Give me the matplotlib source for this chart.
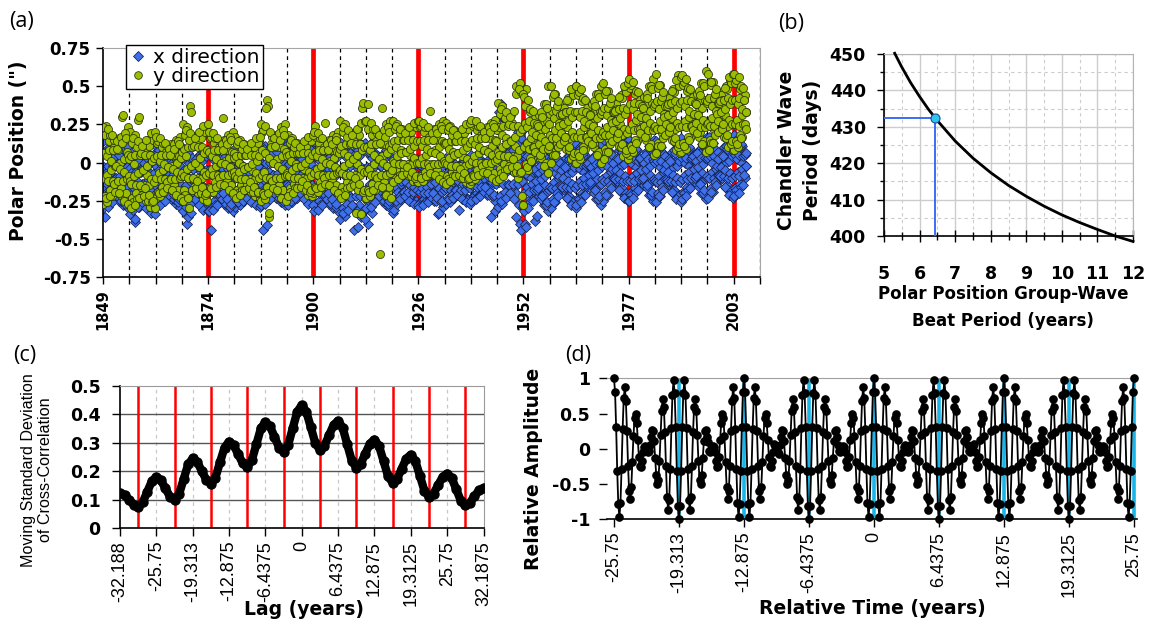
import os
import numpy as np
import matplotlib
matplotlib.use("Agg")
import matplotlib.pyplot as plt
from matplotlib import font_manager
from matplotlib.font_manager import FontProperties
from matplotlib.ticker import MultipleLocator

plt.rcParams["font.family"] = "DejaVu Sans"


def first_font(*names):
    # use the first family that is really installed, so nothing falls back silently
    for name in names:
        try:
            font_manager.findfont(FontProperties(family=name), fallback_to_default=False)
            return name
        except ValueError:
            continue
    return "DejaVu Sans"


def narrow_font(size_narrow, size_plain):
    # a condensed face for the lag/time labels if one is on the system
    files = {os.path.basename(f): f for f in font_manager.findSystemFonts()}
    if "LiberationSansNarrow-Regular.ttf" in files:
        return FontProperties(fname=files["LiberationSansNarrow-Regular.ttf"], size=size_narrow)
    return FontProperties(family=first_font("Liberation Sans", "DejaVu Sans"), size=size_plain)


LETTER = first_font("Open Sans", "Noto Sans")
TICK_NARROW = narrow_font(14, 13)
LABEL_NARROW = narrow_font(14, 11.6)

BEAT = 6.4375  # group-wave beat period, years

# ---------------- (a) polar position, one line pair per beat ----------------
POLE_START = 1849.0
POLE_STEP = BEAT / 30
YEAR_LABELS = ["1849", "1874", "1900", "1926", "1952", "1977", "2003"]
POLE_TICKS = ["0.75", "0.5", "0.25", "0", "-0.25", "-0.5", "-0.75"]

# readings on the beat grid
pole_x = [
    0.14, -0.03, -0.36, -0.27, -0.06, 0.09, -0.02, -0.23, -0.26, -0.08, 0.06, -0.02, -0.20, -0.24, -0.10,
    0.02, -0.02, -0.18, -0.25, -0.11, 0.05, 0.02, -0.18, -0.28, -0.13, 0.07, 0.05, -0.17, -0.30, -0.16,
    -0.20, -0.34, -0.21, 0.01, 0.03, -0.17, -0.39, -0.37, -0.02, 0.01, -0.15, -0.29, -0.22, -0.06, -0.02,
    -0.14, -0.28, -0.24, -0.06, 0.02, -0.12, -0.30, -0.27, -0.06, 0.05, -0.10, -0.31, -0.30, -0.07, 0.06,
    0.11, -0.02, -0.25, -0.26, -0.05, 0.10, -0.01, -0.22, -0.25, -0.07, 0.07, -0.01, -0.19, -0.23, -0.09,
    0.03, -0.01, -0.17, -0.24, -0.10, 0.06, 0.03, -0.17, -0.27, -0.12, 0.08, 0.06, -0.16, -0.29, -0.15,
    -0.18, -0.32, -0.19, 0.03, 0.05, -0.15, -0.40, -0.36, 0.00, 0.03, -0.13, -0.33, -0.20, -0.04, 0.00,
    -0.12, -0.26, -0.22, -0.04, 0.04, -0.10, -0.28, -0.25, -0.04, 0.07, -0.08, -0.29, -0.28, -0.05, 0.08,
    0.08, -0.05, -0.28, -0.44, -0.08, 0.07, -0.04, -0.25, -0.28, -0.10, 0.04, -0.04, -0.22, -0.26, -0.12,
    0.00, -0.04, -0.20, -0.27, -0.13, 0.03, 0.00, -0.20, -0.30, -0.15, 0.05, 0.03, -0.19, -0.32, -0.18,
    -0.18, -0.29, -0.19, -0.03, -0.02, -0.17, -0.28, -0.20, -0.05, -0.03, -0.15, -0.25, -0.20, -0.08, -0.05,
    -0.14, -0.24, -0.21, -0.08, -0.02, -0.12, -0.26, -0.24, -0.08, 0.00, -0.11, -0.26, -0.26, -0.09, 0.01,
    0.12, -0.01, -0.24, -0.44, -0.04, 0.11, 0.00, -0.41, -0.24, -0.06, 0.08, 0.00, -0.18, -0.22, -0.08,
    0.04, 0.00, -0.16, -0.23, -0.09, 0.07, 0.04, -0.16, -0.26, -0.11, 0.09, 0.07, -0.15, -0.28, -0.14,
    -0.14, -0.28, -0.15, 0.07, 0.09, -0.11, -0.26, -0.16, 0.04, 0.07, -0.09, -0.23, -0.16, 0.00, 0.04,
    -0.08, -0.22, -0.18, 0.00, 0.08, -0.06, -0.24, -0.21, 0.00, 0.11, -0.04, -0.25, -0.24, -0.01, 0.12,
    0.08, -0.05, -0.28, -0.29, -0.08, 0.07, -0.04, -0.25, -0.28, -0.10, 0.04, -0.04, -0.22, -0.26, -0.12,
    0.00, -0.04, -0.20, -0.27, -0.13, 0.03, 0.00, -0.20, -0.30, -0.15, 0.05, 0.03, -0.19, -0.32, -0.18,
    -0.19, -0.37, -0.21, 0.06, 0.09, -0.16, -0.35, -0.22, 0.03, 0.07, -0.14, -0.30, -0.22, -0.01, 0.04,
    -0.12, -0.29, -0.44, -0.02, 0.08, -0.09, -0.42, -0.28, -0.02, 0.12, -0.06, -0.33, -0.32, -0.04, 0.13,
    0.10, -0.03, -0.26, -0.40, -0.06, 0.09, -0.02, -0.33, -0.26, 0.15, 0.06, -0.02, -0.20, -0.24, -0.10,
    0.02, -0.02, -0.18, -0.25, -0.11, 0.05, 0.02, -0.18, -0.28, -0.13, 0.07, 0.05, -0.17, -0.30, -0.16,
    -0.17, -0.33, -0.31, -0.02, -0.01, -0.16, -0.27, -0.19, -0.04, -0.02, -0.14, -0.24, -0.19, -0.07, -0.04,
    -0.13, -0.23, -0.20, -0.07, -0.01, -0.11, -0.25, -0.23, -0.07, 0.01, -0.10, -0.25, -0.25, -0.08, 0.02,
    0.01, -0.09, -0.26, -0.26, -0.11, 0.00, -0.08, -0.24, -0.26, -0.12, -0.02, -0.08, -0.21, -0.24, -0.14,
    -0.05, -0.08, -0.20, -0.25, -0.15, -0.03, -0.05, -0.34, -0.33, -0.17, -0.02, -0.03, -0.19, -0.29, -0.18,
    -0.16, -0.27, -0.17, -0.01, 0.00, -0.15, -0.26, -0.18, -0.03, -0.01, -0.13, -0.23, -0.18, -0.06, -0.03,
    -0.12, -0.31, -0.19, -0.06, 0.00, -0.10, -0.24, -0.22, -0.06, 0.02, -0.09, -0.24, -0.24, -0.07, 0.03,
    0.05, -0.05, -0.22, -0.22, -0.07, 0.04, -0.04, -0.20, -0.22, -0.08, 0.02, -0.04, -0.17, -0.20, -0.10,
    -0.01, -0.04, -0.16, -0.21, -0.11, 0.01, -0.01, -0.16, -0.36, -0.13, 0.02, 0.01, -0.32, -0.25, -0.14,
    -0.11, -0.29, -0.13, 0.30, 0.38, -0.08, -0.27, -0.14, 0.11, 0.28, -0.06, -0.22, -0.14, 0.07, 0.12,
    -0.04, -0.21, -0.16, 0.06, 0.16, -0.01, -0.36, -0.20, 0.06, 0.20, 0.02, -0.40, -0.44, 0.04, 0.21,
    0.10, -0.05, -0.40, -0.42, -0.08, 0.06, -0.05, -0.24, -0.26, -0.10, 0.01, -0.06, -0.19, -0.38, -0.12,
    -0.35, -0.07, -0.17, -0.22, -0.13, 0.00, -0.02, -0.19, -0.28, -0.15, 0.04, 0.02, -0.19, -0.32, -0.18,
    -0.16, -0.30, -0.17, 0.04, 0.06, -0.13, -0.26, -0.17, 0.00, 0.02, -0.11, -0.20, -0.15, -0.05, -0.04,
    -0.10, -0.18, -0.17, -0.04, 0.03, -0.08, -0.24, -0.22, -0.03, 0.08, -0.06, -0.26, -0.25, -0.03, 0.10,
    0.12, -0.01, -0.23, -0.24, -0.04, 0.10, -0.01, -0.20, -0.22, -0.06, 0.05, -0.02, -0.15, -0.16, -0.08,
    -0.02, -0.03, -0.13, -0.18, -0.09, 0.04, 0.02, -0.15, -0.24, -0.11, 0.08, 0.06, -0.15, -0.28, -0.14,
    -0.11, -0.25, -0.12, 0.09, 0.11, -0.08, -0.21, -0.12, 0.05, 0.07, -0.06, -0.15, -0.10, 0.00, 0.01,
    -0.05, -0.13, -0.12, 0.01, 0.08, -0.03, -0.19, -0.17, 0.02, 0.13, -0.01, -0.21, -0.20, 0.02, 0.15,
    0.15, 0.02, -0.20, -0.21, -0.01, 0.13, 0.02, -0.17, -0.19, -0.03, 0.08, 0.01, -0.12, -0.13, -0.05,
    0.01, 0.00, -0.10, -0.15, -0.06, 0.07, 0.05, -0.12, -0.21, -0.08, 0.11, 0.09, -0.12, -0.25, -0.11,
    -0.12, -0.26, -0.13, 0.08, 0.10, -0.09, -0.22, -0.13, 0.04, 0.06, -0.07, -0.16, -0.11, -0.01, 0.00,
    -0.06, -0.14, -0.13, 0.00, 0.07, -0.04, -0.20, -0.18, 0.01, 0.12, -0.02, -0.22, -0.21, 0.01, 0.14,
    0.16, 0.03, -0.19, -0.20, 0.00, 0.14, 0.03, -0.16, -0.18, -0.02, 0.09, 0.02, -0.11, -0.12, -0.04,
    0.02, 0.01, -0.09, -0.14, -0.05, 0.08, 0.06, -0.11, -0.20, -0.07, 0.12, 0.10, -0.11, -0.24, -0.10,
    -0.09, -0.23, -0.10, 0.11, 0.13, -0.06, -0.19, -0.10, 0.07, 0.09, -0.04, -0.13, -0.08, 0.02, 0.03,
    -0.03, -0.11, -0.10, 0.03, 0.10, -0.01, -0.17, -0.15, 0.04, 0.15, 0.01, -0.19, -0.18, 0.04, 0.17,
    0.18, 0.05, -0.17, -0.18, 0.02, 0.16, 0.05, -0.14, -0.16, 0.00, 0.11, 0.04, -0.09, -0.10, -0.02,
]

# readings half a step later
pole_x_mid = [
    -0.30, -0.17, 0.06, 0.07, -0.14, -0.29, -0.18, 0.03, 0.06, -0.12, -0.26, -0.18, 0.00, 0.04, -0.10,
    -0.22, -0.18, -0.02, 0.05, -0.09, -0.25, -0.22, -0.02, 0.08, -0.07, -0.27, -0.25, -0.03, 0.10, -0.04,
    -0.08, 0.06, -0.07, -0.29, -0.31, -0.11, 0.04, -0.06, -0.26, -0.29, -0.13, 0.01, -0.06, -0.22, -0.26,
    -0.14, 0.00, -0.04, -0.22, -0.30, -0.16, 0.02, -0.01, -0.22, -0.33, -0.18, 0.03, 0.02, -0.21, -0.34,
    -0.29, -0.16, 0.07, 0.08, -0.13, -0.28, -0.17, 0.04, 0.07, -0.11, -0.25, -0.17, 0.01, 0.05, -0.09,
    -0.21, -0.17, -0.01, 0.06, -0.08, -0.24, -0.21, -0.01, 0.09, -0.06, -0.26, -0.24, -0.02, 0.11, -0.03,
    -0.06, 0.08, -0.05, -0.27, -0.29, -0.09, 0.06, -0.04, -0.24, -0.27, -0.11, 0.03, -0.04, -0.20, -0.24,
    -0.12, 0.02, -0.02, -0.20, -0.28, -0.14, 0.04, 0.01, -0.20, -0.31, -0.16, 0.05, 0.04, -0.19, -0.32,
    -0.32, -0.19, 0.04, 0.05, -0.16, -0.31, -0.20, 0.01, 0.04, -0.14, -0.28, -0.20, -0.02, 0.02, -0.12,
    -0.24, -0.20, -0.04, 0.03, -0.11, -0.27, -0.24, -0.04, 0.06, -0.09, -0.29, -0.27, -0.05, 0.08, -0.06,
    -0.10, 0.01, -0.09, -0.25, -0.26, -0.11, 0.00, -0.08, -0.23, -0.25, -0.13, -0.03, -0.08, -0.20, -0.23,
    -0.14, -0.04, -0.07, -0.20, -0.26, -0.16, -0.02, -0.04, -0.20, -0.28, -0.17, -0.02, -0.02, -0.19, -0.29,
    -0.28, -0.15, 0.08, 0.09, -0.12, -0.27, -0.16, 0.05, 0.08, -0.10, -0.24, -0.16, 0.02, 0.06, -0.08,
    -0.20, -0.16, 0.00, 0.07, -0.07, -0.23, -0.20, 0.00, 0.10, -0.05, -0.25, -0.23, -0.01, 0.12, -0.02,
    -0.02, 0.12, -0.01, -0.23, -0.25, -0.05, 0.10, 0.00, -0.20, -0.23, -0.07, 0.07, 0.00, -0.16, -0.20,
    -0.08, 0.06, 0.02, -0.16, -0.24, -0.10, 0.08, 0.05, -0.16, -0.27, -0.12, 0.09, 0.08, -0.15, -0.28,
    -0.32, -0.19, 0.04, 0.05, -0.16, -0.31, -0.20, 0.01, 0.04, -0.14, -0.28, -0.20, -0.02, 0.02, -0.12,
    -0.24, -0.20, -0.04, 0.03, -0.11, -0.27, -0.24, -0.04, 0.06, -0.09, -0.29, -0.27, -0.05, 0.08, -0.06,
    -0.05, 0.13, -0.03, -0.30, -0.33, -0.08, 0.11, -0.02, -0.27, -0.31, -0.10, 0.06, -0.02, -0.23, -0.28,
    -0.12, 0.05, 0.00, -0.22, -0.32, -0.15, 0.08, 0.04, -0.22, -0.36, -0.18, 0.09, 0.08, -0.20, -0.37,
    -0.30, -0.17, 0.06, 0.07, -0.14, -0.29, -0.18, 0.03, 0.06, -0.12, -0.26, -0.18, 0.00, 0.04, -0.10,
    -0.22, -0.18, -0.02, 0.05, -0.09, -0.25, -0.22, -0.02, 0.08, -0.07, -0.27, -0.25, -0.03, 0.10, -0.04,
    -0.09, 0.02, -0.08, -0.24, -0.25, -0.10, 0.01, -0.07, -0.22, -0.24, -0.12, -0.02, -0.07, -0.19, -0.22,
    -0.13, -0.03, -0.06, -0.19, -0.25, -0.15, -0.01, -0.03, -0.19, -0.27, -0.16, -0.01, -0.01, -0.18, -0.28,
    -0.29, -0.19, -0.02, -0.02, -0.17, -0.28, -0.20, -0.04, -0.02, -0.16, -0.26, -0.20, -0.07, -0.04, -0.14,
    -0.23, -0.20, -0.08, -0.03, -0.13, -0.25, -0.23, -0.08, 0.00, -0.11, -0.26, -0.25, -0.09, 0.01, -0.10,
    -0.08, 0.03, -0.07, -0.23, -0.24, -0.09, 0.02, -0.06, -0.21, -0.23, -0.11, -0.01, -0.06, -0.18, -0.21,
    -0.12, -0.02, -0.05, -0.18, -0.24, -0.14, 0.00, -0.02, -0.18, -0.26, -0.15, 0.00, 0.00, -0.17, -0.27,
    -0.25, -0.15, 0.02, 0.02, -0.13, -0.24, -0.16, 0.00, 0.02, -0.12, -0.22, -0.16, -0.03, 0.00, -0.10,
    -0.19, -0.16, -0.04, 0.01, -0.09, -0.21, -0.19, -0.04, 0.04, -0.07, -0.22, -0.21, -0.05, 0.05, -0.06,
    0.03, 0.33, 0.05, -0.22, -0.25, 0.00, 0.30, 0.06, -0.19, -0.23, -0.02, 0.14, 0.06, -0.15, -0.20,
    -0.04, 0.13, 0.08, -0.14, -0.24, -0.07, 0.16, 0.12, -0.14, -0.28, -0.10, 0.17, 0.16, -0.12, -0.29,
    -0.32, -0.19, 0.03, 0.04, -0.16, -0.30, -0.19, 0.00, 0.02, -0.14, -0.25, -0.18, -0.05, -0.04, -0.12,
    -0.18, -0.17, -0.07, -0.02, -0.11, -0.24, -0.22, -0.05, 0.04, -0.09, -0.28, -0.26, -0.05, 0.08, -0.06,
    -0.04, 0.10, -0.03, -0.24, -0.26, -0.07, 0.06, -0.03, -0.20, -0.22, -0.09, 0.00, -0.05, -0.15, -0.16,
    -0.10, -0.02, -0.03, -0.16, -0.23, -0.12, 0.04, 0.02, -0.17, -0.28, -0.14, 0.06, 0.05, -0.17, -0.30,
    -0.28, -0.15, 0.07, 0.08, -0.12, -0.26, -0.15, 0.04, 0.06, -0.10, -0.21, -0.14, -0.01, 0.00, -0.08,
    -0.14, -0.13, -0.03, 0.02, -0.07, -0.20, -0.18, -0.01, 0.08, -0.05, -0.24, -0.22, -0.01, 0.12, -0.02,
    0.01, 0.15, 0.02, -0.19, -0.21, -0.02, 0.11, 0.02, -0.15, -0.17, -0.04, 0.05, 0.00, -0.10, -0.11,
    -0.05, 0.03, 0.02, -0.11, -0.18, -0.07, 0.09, 0.07, -0.12, -0.23, -0.09, 0.11, 0.10, -0.12, -0.25,
    -0.25, -0.12, 0.10, 0.11, -0.09, -0.23, -0.12, 0.07, 0.09, -0.07, -0.18, -0.11, 0.02, 0.03, -0.05,
    -0.11, -0.10, 0.00, 0.05, -0.04, -0.17, -0.15, 0.02, 0.11, -0.02, -0.21, -0.19, 0.02, 0.15, 0.01,
    0.00, 0.14, 0.01, -0.20, -0.22, -0.03, 0.10, 0.01, -0.16, -0.18, -0.05, 0.04, -0.01, -0.11, -0.12,
    -0.06, 0.02, 0.01, -0.12, -0.19, -0.08, 0.08, 0.06, -0.13, -0.24, -0.10, 0.10, 0.09, -0.13, -0.26,
    -0.24, -0.11, 0.11, 0.12, -0.08, -0.22, -0.11, 0.08, 0.10, -0.06, -0.17, -0.10, 0.03, 0.04, -0.04,
    -0.10, -0.09, 0.01, 0.06, -0.03, -0.16, -0.14, 0.03, 0.12, -0.01, -0.20, -0.18, 0.03, 0.16, 0.02,
    0.03, 0.17, 0.04, -0.17, -0.19, 0.00, 0.13, 0.04, -0.13, -0.15, -0.02, 0.07, 0.02, -0.08, -0.09,
    -0.03, 0.05, 0.04, -0.09, -0.16, -0.05, 0.11, 0.09, -0.10, -0.21, -0.07, 0.13, 0.12, -0.10, -0.23,
    -0.22, -0.09, 0.13, 0.14, -0.06, -0.20, -0.09, 0.10, 0.12, -0.04, -0.15, -0.08, 0.05, 0.06, -0.02,
]

pole_y = [
    -0.27, -0.10, 0.18, 0.24, -0.08, -0.26, -0.12, 0.14, 0.18, -0.05, -0.22, -0.12, 0.10, 0.15, -0.02,
    -0.18, -0.13, 0.08, 0.16, 0.00, -0.21, -0.17, 0.30, 0.31, 0.02, -0.23, -0.20, 0.07, 0.23, 0.05,
    0.02, 0.20, 0.04, -0.23, -0.26, -0.01, 0.18, 0.05, -0.20, -0.24, 0.28, 0.30, 0.05, -0.16, -0.21,
    -0.05, 0.12, 0.07, -0.15, -0.25, -0.08, 0.15, 0.11, -0.15, -0.29, -0.11, 0.16, 0.15, -0.13, -0.30,
    -0.23, -0.10, 0.13, 0.14, -0.07, -0.22, -0.11, 0.10, 0.13, -0.05, -0.19, -0.11, 0.07, 0.11, -0.03,
    -0.15, -0.11, 0.05, 0.12, -0.02, -0.18, -0.15, 0.05, 0.15, 0.00, -0.20, -0.18, 0.04, 0.17, 0.03,
    0.07, 0.25, 0.09, -0.18, -0.21, 0.04, 0.23, 0.10, -0.30, 0.37, 0.33, 0.18, 0.10, -0.11, -0.16,
    0.00, 0.17, 0.12, -0.10, -0.20, -0.03, 0.20, 0.16, -0.10, -0.24, -0.06, 0.21, 0.20, -0.08, -0.25,
    -0.20, -0.07, 0.16, 0.17, -0.04, -0.19, -0.08, 0.13, 0.16, -0.02, -0.16, -0.08, 0.10, 0.14, 0.00,
    -0.12, -0.08, 0.29, 0.15, 0.01, -0.15, -0.12, 0.08, 0.18, 0.03, -0.17, -0.15, 0.07, 0.20, 0.06,
    0.03, 0.17, 0.04, -0.18, -0.20, 0.00, 0.15, 0.05, -0.15, -0.18, -0.02, 0.12, 0.05, -0.11, -0.15,
    -0.03, 0.11, 0.07, -0.11, -0.19, -0.05, 0.13, 0.10, -0.11, -0.22, -0.07, 0.14, 0.13, -0.10, -0.23,
    -0.25, -0.08, 0.20, 0.21, -0.06, -0.24, -0.10, 0.41, 0.37, -0.36, -0.33, -0.10, 0.12, 0.17, 0.00,
    -0.16, -0.11, 0.10, 0.18, 0.02, -0.19, -0.15, 0.10, 0.23, 0.04, -0.21, -0.18, 0.09, 0.25, 0.07,
    0.04, 0.18, 0.05, -0.17, -0.19, 0.01, 0.16, 0.06, -0.14, -0.17, -0.01, 0.13, 0.06, -0.10, -0.14,
    -0.02, 0.12, 0.08, -0.10, -0.18, -0.04, 0.14, 0.11, -0.10, -0.21, -0.06, 0.15, 0.14, -0.09, -0.22,
    -0.20, -0.07, 0.24, 0.17, -0.04, -0.19, -0.08, 0.13, 0.16, -0.02, -0.16, -0.08, 0.10, 0.26, 0.00,
    -0.12, -0.08, 0.08, 0.15, 0.01, -0.15, -0.12, 0.08, 0.18, 0.03, -0.17, -0.15, 0.07, 0.20, 0.06,
    0.09, 0.27, 0.11, -0.16, -0.19, 0.06, 0.25, 0.12, -0.13, -0.17, 0.04, 0.20, 0.12, -0.09, -0.14,
    0.02, 0.19, 0.14, -0.08, -0.33, -0.01, 0.22, 0.18, -0.08, -0.34, -0.04, 0.36, 0.39, -0.06, -0.23,
    -0.23, -0.06, 0.22, 0.38, -0.04, -0.22, -0.08, 0.18, 0.22, -0.01, -0.18, -0.08, 0.14, 0.19, 0.02,
    -0.14, -0.60, 0.12, 0.36, 0.04, -0.17, -0.13, 0.12, 0.25, 0.06, -0.19, -0.16, 0.11, 0.27, 0.09,
    0.13, 0.27, 0.14, -0.08, -0.10, 0.10, 0.25, 0.15, -0.05, -0.08, 0.08, 0.22, 0.15, -0.01, -0.05,
    0.07, 0.21, 0.17, -0.01, -0.09, 0.05, 0.23, 0.20, -0.01, -0.12, 0.03, 0.24, 0.23, 0.00, -0.13,
    -0.13, 0.00, 0.23, 0.24, 0.03, -0.12, -0.01, 0.20, 0.23, 0.05, -0.09, -0.01, 0.17, 0.34, 0.07,
    -0.05, -0.01, 0.15, 0.22, 0.08, -0.08, -0.05, 0.15, 0.25, 0.10, -0.10, -0.08, 0.14, 0.27, 0.13,
    0.12, 0.26, 0.13, -0.09, -0.11, 0.09, 0.24, 0.14, -0.06, -0.09, 0.07, 0.21, 0.14, -0.02, -0.06,
    0.06, 0.20, 0.16, -0.02, -0.10, 0.04, 0.22, 0.19, -0.02, -0.13, 0.02, 0.23, 0.22, -0.01, -0.14,
    -0.12, 0.01, 0.24, 0.25, 0.04, -0.11, 0.00, 0.21, 0.24, 0.06, -0.08, 0.00, 0.18, 0.22, 0.08,
    -0.04, 0.00, 0.16, 0.23, 0.09, -0.07, -0.04, 0.16, 0.26, 0.11, -0.09, -0.07, 0.15, 0.28, 0.14,
    0.21, 0.39, 0.23, -0.04, -0.07, 0.18, 0.37, 0.24, -0.01, -0.05, 0.16, 0.32, 0.24, 0.03, -0.02,
    0.14, 0.31, 0.26, 0.04, -0.06, 0.11, 0.45, 0.50, 0.04, -0.10, 0.08, 0.52, 0.46, -0.22, -0.28,
    -0.28, 0.10, 0.37, 0.48, 0.13, -0.05, 0.09, 0.33, 0.35, 0.16, 0.02, 0.10, 0.26, 0.29, 0.18,
    0.11, 0.12, 0.24, 0.31, 0.19, 0.03, 0.06, 0.27, 0.38, 0.22, -0.02, 0.00, 0.27, 0.50, 0.25,
    0.32, 0.50, 0.34, 0.07, 0.05, 0.29, 0.45, 0.34, 0.13, 0.10, 0.26, 0.38, 0.31, 0.19, 0.18,
    0.25, 0.36, 0.33, 0.17, 0.09, 0.23, 0.42, 0.40, 0.16, 0.02, 0.20, 0.46, 0.44, 0.17, 0.00,
    0.00, 0.17, 0.44, 0.46, 0.20, 0.02, 0.16, 0.40, 0.42, 0.23, 0.09, 0.17, 0.33, 0.36, 0.25,
    0.18, 0.19, 0.31, 0.38, 0.26, 0.10, 0.13, 0.34, 0.45, 0.29, 0.05, 0.07, 0.34, 0.50, 0.32,
    0.34, 0.52, 0.36, 0.09, 0.07, 0.31, 0.47, 0.36, 0.15, 0.12, 0.28, 0.40, 0.33, 0.21, 0.20,
    0.27, 0.38, 0.35, 0.19, 0.11, 0.25, 0.44, 0.42, 0.18, 0.04, 0.22, 0.48, 0.46, 0.19, 0.02,
    0.05, 0.22, 0.49, 0.51, 0.25, 0.07, 0.21, 0.45, 0.47, 0.28, 0.14, 0.22, 0.38, 0.41, 0.30,
    0.23, 0.24, 0.36, 0.43, 0.31, 0.15, 0.18, 0.39, 0.50, 0.34, 0.10, 0.12, 0.39, 0.55, 0.37,
    0.38, 0.58, 0.40, 0.13, 0.11, 0.35, 0.51, 0.40, 0.19, 0.16, 0.32, 0.44, 0.37, 0.25, 0.24,
    0.31, 0.42, 0.39, 0.23, 0.15, 0.29, 0.48, 0.46, 0.22, 0.08, 0.26, 0.57, 0.50, 0.23, 0.06,
    0.07, 0.24, 0.51, 0.53, 0.27, 0.09, 0.23, 0.47, 0.49, 0.30, 0.16, 0.24, 0.40, 0.43, 0.32,
    0.25, 0.26, 0.38, 0.45, 0.33, 0.17, 0.20, 0.41, 0.52, 0.36, 0.12, 0.14, 0.41, 0.60, 0.39,
    0.40, 0.58, 0.42, 0.15, 0.13, 0.37, 0.53, 0.42, 0.21, 0.18, 0.34, 0.46, 0.39, 0.27, 0.26,
    0.33, 0.44, 0.41, 0.25, 0.17, 0.31, 0.50, 0.48, 0.24, 0.10, 0.28, 0.54, 0.52, 0.25, 0.08,
    0.08, 0.25, 0.52, 0.54, 0.28, 0.10, 0.24, 0.48, 0.50, 0.31, 0.17, 0.25, 0.41, 0.44, 0.33,
]

pole_y_mid = [
    0.23, 0.06, -0.22, -0.23, 0.04, 0.22, 0.08, -0.18, -0.22, 0.01, 0.18, 0.08, -0.14, -0.19, -0.02,
    0.14, 0.09, -0.12, -0.20, -0.04, 0.17, 0.13, -0.12, -0.25, -0.06, 0.19, 0.16, -0.11, -0.27, -0.09,
    -0.12, -0.30, -0.14, 0.13, 0.16, -0.09, -0.28, -0.15, 0.10, 0.14, -0.07, -0.23, -0.15, 0.06, 0.11,
    -0.05, -0.22, -0.17, 0.05, 0.15, -0.02, -0.25, -0.21, 0.05, 0.19, 0.01, -0.26, -0.25, 0.03, 0.20,
    0.17, 0.04, -0.19, -0.20, 0.01, 0.16, 0.05, -0.16, -0.19, -0.01, 0.13, 0.05, -0.13, -0.17, -0.03,
    0.09, 0.05, -0.11, -0.18, -0.04, 0.12, 0.09, -0.11, -0.21, -0.06, 0.14, 0.12, -0.10, -0.23, -0.09,
    -0.07, -0.25, -0.09, 0.18, 0.21, -0.04, -0.23, -0.10, 0.15, 0.19, -0.02, -0.18, -0.10, 0.11, 0.16,
    0.00, -0.17, -0.12, 0.10, 0.20, 0.03, -0.20, -0.16, 0.10, 0.24, 0.06, -0.21, -0.20, 0.08, 0.25,
    0.20, 0.07, -0.16, -0.17, 0.04, 0.19, 0.08, -0.13, -0.16, 0.02, 0.16, 0.08, -0.10, -0.14, 0.00,
    0.12, 0.08, -0.08, -0.15, -0.01, 0.15, 0.12, -0.08, -0.18, -0.03, 0.17, 0.15, -0.07, -0.20, -0.06,
    -0.09, -0.23, -0.10, 0.12, 0.14, -0.06, -0.21, -0.11, 0.09, 0.12, -0.04, -0.18, -0.11, 0.05, 0.09,
    -0.03, -0.17, -0.13, 0.05, 0.13, -0.01, -0.19, -0.16, 0.05, 0.16, 0.01, -0.20, -0.19, 0.04, 0.17,
    0.25, 0.08, -0.20, -0.21, 0.06, 0.24, 0.36, -0.16, -0.20, 0.03, 0.20, 0.10, -0.12, -0.17, 0.00,
    0.16, 0.11, -0.10, -0.18, -0.02, 0.19, 0.15, -0.10, -0.23, -0.04, 0.21, 0.18, -0.09, -0.25, -0.07,
    -0.08, -0.22, -0.09, 0.13, 0.15, -0.05, -0.20, -0.10, 0.10, 0.13, -0.03, -0.17, -0.10, 0.06, 0.10,
    -0.02, -0.16, -0.12, 0.06, 0.14, 0.00, -0.18, -0.15, 0.06, 0.17, 0.02, -0.19, -0.18, 0.05, 0.18,
    0.20, 0.07, -0.16, -0.17, 0.04, 0.19, 0.08, -0.13, -0.16, 0.02, 0.16, 0.08, -0.10, -0.14, 0.00,
    0.12, 0.08, -0.08, -0.15, -0.01, 0.15, 0.12, -0.08, -0.18, -0.03, 0.17, 0.15, -0.07, -0.20, -0.06,
    -0.05, -0.23, -0.07, 0.20, 0.23, -0.02, -0.21, -0.08, 0.17, 0.21, 0.00, -0.16, -0.08, 0.13, 0.18,
    0.02, -0.15, -0.10, 0.12, 0.22, 0.05, -0.18, -0.14, 0.12, 0.26, 0.08, -0.19, -0.18, 0.10, 0.27,
    0.27, 0.10, -0.18, -0.19, 0.08, 0.26, 0.12, -0.14, -0.18, 0.05, 0.22, 0.12, -0.10, -0.15, 0.02,
    0.18, 0.13, -0.08, -0.16, 0.00, 0.21, 0.17, -0.08, -0.21, -0.02, 0.23, 0.20, -0.07, -0.23, -0.05,
    0.01, -0.13, 0.00, 0.22, 0.24, 0.04, -0.11, -0.01, 0.19, 0.22, 0.06, -0.08, -0.01, 0.15, 0.19,
    0.07, -0.07, -0.03, 0.15, 0.23, 0.09, -0.09, -0.06, 0.15, 0.26, 0.11, -0.10, -0.09, 0.14, 0.27,
    0.27, 0.14, -0.09, -0.10, 0.11, 0.26, 0.15, -0.06, -0.09, 0.09, 0.23, 0.15, -0.03, -0.07, 0.07,
    0.19, 0.15, -0.01, -0.08, 0.06, 0.22, 0.19, -0.01, -0.11, 0.04, 0.24, 0.22, 0.00, -0.13, 0.01,
    0.00, -0.14, -0.01, 0.21, 0.23, 0.03, -0.12, -0.02, 0.18, 0.21, 0.05, -0.09, -0.02, 0.14, 0.18,
    0.06, -0.08, -0.04, 0.14, 0.22, 0.08, -0.10, -0.07, 0.14, 0.25, 0.10, -0.11, -0.10, 0.13, 0.26,
    0.28, 0.15, -0.08, -0.09, 0.12, 0.27, 0.16, -0.05, -0.08, 0.10, 0.24, 0.16, -0.02, -0.06, 0.08,
    0.20, 0.16, 0.00, -0.07, 0.07, 0.23, 0.20, 0.00, -0.10, 0.05, 0.25, 0.23, 0.01, -0.12, 0.02,
    0.07, -0.11, 0.05, 0.32, 0.35, 0.10, -0.09, 0.04, 0.29, 0.33, 0.12, -0.04, 0.04, 0.25, 0.30,
    0.14, -0.03, 0.02, 0.24, 0.34, 0.17, -0.06, -0.02, 0.24, 0.48, 0.20, -0.07, -0.06, 0.22, 0.45,
    0.43, 0.26, -0.01, -0.03, 0.23, 0.41, 0.27, 0.03, 0.01, 0.20, 0.34, 0.26, 0.10, 0.07, 0.18,
    0.25, 0.24, 0.12, 0.05, 0.17, 0.33, 0.30, 0.09, -0.02, 0.14, 0.38, 0.36, 0.09, -0.07, 0.11,
    0.18, 0.00, 0.16, 0.43, 0.45, 0.21, 0.05, 0.16, 0.37, 0.40, 0.24, 0.12, 0.19, 0.31, 0.32,
    0.25, 0.14, 0.17, 0.33, 0.41, 0.27, 0.08, 0.10, 0.34, 0.48, 0.30, 0.04, 0.06, 0.33, 0.50,
    0.50, 0.33, 0.06, 0.04, 0.30, 0.48, 0.34, 0.10, 0.08, 0.27, 0.41, 0.33, 0.17, 0.14, 0.25,
    0.32, 0.31, 0.19, 0.12, 0.24, 0.40, 0.37, 0.16, 0.05, 0.21, 0.45, 0.43, 0.16, 0.00, 0.18,
    0.20, 0.02, 0.18, 0.45, 0.47, 0.23, 0.07, 0.18, 0.39, 0.42, 0.26, 0.14, 0.21, 0.33, 0.34,
    0.27, 0.16, 0.19, 0.35, 0.43, 0.29, 0.10, 0.12, 0.36, 0.50, 0.32, 0.06, 0.08, 0.35, 0.52,
    0.55, 0.38, 0.11, 0.09, 0.35, 0.53, 0.39, 0.15, 0.13, 0.32, 0.46, 0.38, 0.22, 0.19, 0.30,
    0.37, 0.36, 0.24, 0.17, 0.29, 0.45, 0.42, 0.21, 0.10, 0.26, 0.50, 0.48, 0.21, 0.05, 0.23,
    0.24, 0.06, 0.22, 0.49, 0.51, 0.27, 0.11, 0.22, 0.43, 0.46, 0.30, 0.18, 0.25, 0.37, 0.38,
    0.31, 0.20, 0.23, 0.39, 0.47, 0.33, 0.14, 0.16, 0.40, 0.54, 0.36, 0.10, 0.12, 0.39, 0.56,
    0.57, 0.40, 0.13, 0.11, 0.37, 0.55, 0.41, 0.17, 0.15, 0.34, 0.48, 0.40, 0.24, 0.21, 0.32,
    0.39, 0.38, 0.26, 0.19, 0.31, 0.47, 0.44, 0.23, 0.12, 0.28, 0.52, 0.50, 0.23, 0.07, 0.25,
    0.26, 0.08, 0.24, 0.51, 0.53, 0.29, 0.13, 0.24, 0.45, 0.48, 0.32, 0.20, 0.27, 0.39, 0.40,
    0.33, 0.22, 0.25, 0.41, 0.49, 0.35, 0.16, 0.18, 0.42, 0.56, 0.38, 0.12, 0.14, 0.41, 0.58,
    0.58, 0.41, 0.14, 0.12, 0.38, 0.56, 0.42, 0.18, 0.16, 0.35, 0.49, 0.41, 0.25, 0.22, 0.33,
]

# ---------------- (b) Chandler period against beat period ----------------
beat_period = [5.3, 5.5, 5.75, 6.0, 6.25, 6.5, 7.0, 7.5, 8.0, 8.5, 9.0, 9.5, 10.0, 10.5, 11.0, 11.5, 12.0]
chandler_days = [450.2, 446.4, 442.1, 438.3, 434.8, 431.7, 426.1, 421.4, 417.4, 413.9, 410.9, 408.2,
                 405.8, 403.7, 401.8, 400.0, 398.5]
picked_beat = 6.4375
picked_days = 432.4

# ---------------- (c) moving std of the cross-correlation ----------------
LAG_LABELS = ["-32.188", "-25.75", "-19.313", "-12.875", "-6.4375", "0",
              "6.4375", "12.875", "19.3125", "25.75", "32.1875"]
lag_sd = [
    0.124, 0.117, 0.100, 0.083, 0.076, 0.091, 0.128, 0.165, 0.180, 0.168,
    0.140, 0.111, 0.099, 0.120, 0.172, 0.224, 0.245, 0.232, 0.201, 0.170,
    0.157, 0.178, 0.231, 0.283, 0.304, 0.291, 0.260, 0.228, 0.215, 0.238,
    0.294, 0.350, 0.373, 0.358, 0.321, 0.283, 0.268, 0.292, 0.350, 0.408,
    0.432, 0.409, 0.354, 0.298, 0.275, 0.290, 0.326, 0.362, 0.377, 0.353,
    0.295, 0.237, 0.213, 0.227, 0.262, 0.297, 0.311, 0.289, 0.236, 0.182,
    0.160, 0.174, 0.209, 0.244, 0.258, 0.236, 0.184, 0.132, 0.110, 0.122,
    0.151, 0.180, 0.192, 0.176, 0.137, 0.097, 0.081, 0.090, 0.112, 0.133,
    0.142,
]

# ---------------- (d) relative amplitude of the beat ----------------
TIME_LABELS = ["-25.75", "-19.313", "-12.875", "-6.4375", "0",
               "6.4375", "12.875", "19.3125", "25.75"]
rel_amp = [
    1.00, 0.81, 0.31, -0.31, -0.79, -0.97, -0.77, -0.29, 0.28, 0.72,
    0.87, 0.68, 0.25, -0.24, -0.60, -0.71, -0.54, -0.19, 0.18, 0.44,
    0.50, 0.37, 0.13, -0.11, -0.25, -0.26, -0.17, -0.05, 0.03, 0.04,
    0.00, -0.04, -0.03, 0.05, 0.17, 0.26, 0.25, 0.11, -0.13, -0.37,
    -0.50, -0.44, -0.18, 0.19, 0.54, 0.71, 0.60, 0.24, -0.25, -0.68,
    -0.87, -0.72, -0.28, 0.29, 0.77, 0.97, 0.79, 0.31, -0.31, -0.81,
    -1.00, -0.81, -0.31, 0.31, 0.79, 0.97, 0.77, 0.29, -0.28, -0.72,
    -0.87, -0.68, -0.25, 0.24, 0.60, 0.71, 0.54, 0.19, -0.18, -0.44,
    -0.50, -0.37, -0.13, 0.11, 0.25, 0.26, 0.17, 0.09, -0.03, -0.04,
    0.00, 0.04, 0.03, -0.05, -0.17, -0.26, -0.25, -0.11, 0.13, 0.37,
    0.50, 0.44, 0.18, -0.19, -0.54, -0.71, -0.60, -0.24, 0.25, 0.68,
    0.87, 0.72, 0.28, -0.29, -0.77, -0.97, -0.79, -0.31, 0.31, 0.81,
    1.00, 0.81, 0.31, -0.31, -0.79, -0.97, -0.77, -0.29, 0.28, 0.72,
    0.87, 0.68, 0.25, -0.24, -0.60, -0.71, -0.54, -0.19, 0.18, 0.44,
    0.50, 0.37, 0.13, -0.11, -0.25, -0.26, -0.17, -0.05, 0.07, 0.04,
    0.00, -0.04, -0.08, 0.05, 0.17, 0.26, 0.25, 0.11, -0.13, -0.37,
    -0.50, -0.44, -0.18, 0.19, 0.54, 0.71, 0.60, 0.24, -0.25, -0.68,
    -0.87, -0.72, -0.28, 0.29, 0.77, 0.97, 0.79, 0.31, -0.31, -0.81,
    -1.00, -0.81, -0.31, 0.31, 0.79, 0.97, 0.77, 0.29, -0.28, -0.72,
    -0.87, -0.68, -0.25, 0.24, 0.60, 0.71, 0.54, 0.19, -0.18, -0.44,
    -0.50, -0.37, -0.13, 0.11, 0.25, 0.26, 0.17, 0.05, -0.03, -0.04,
    0.00, 0.04, 0.03, -0.05, -0.17, -0.26, -0.25, -0.11, 0.13, 0.37,
    0.50, 0.44, 0.18, -0.19, -0.54, -0.71, -0.60, -0.24, 0.25, 0.68,
    0.87, 0.72, 0.28, -0.29, -0.77, -0.97, -0.79, -0.31, 0.31, 0.81,
    1.00, 0.81, 0.31, -0.31, -0.79, -0.97, -0.77, -0.29, 0.28, 0.72,
    0.87, 0.68, 0.25, -0.24, -0.60, -0.71, -0.54, -0.19, 0.18, 0.44,
    0.50, 0.37, 0.13, -0.11, -0.25, -0.26, -0.17, -0.05, 0.03, 0.06,
    0.02, -0.04, -0.03, 0.05, 0.17, 0.26, 0.25, 0.11, -0.13, -0.37,
    -0.50, -0.44, -0.18, 0.19, 0.54, 0.71, 0.60, 0.24, -0.25, -0.68,
    -0.87, -0.72, -0.28, 0.29, 0.77, 0.97, 0.79, 0.31, -0.31, -0.81,
    -1.00, -0.81, -0.31, 0.31, 0.79, 0.97, 0.77, 0.29, -0.28, -0.72,
    -0.87, -0.68, -0.25, 0.24, 0.60, 0.71, 0.54, 0.19, -0.18, -0.44,
    -0.50, -0.37, -0.13, 0.11, 0.25, 0.26, 0.17, 0.05, -0.03, -0.04,
    0.00, 0.04, 0.07, -0.05, -0.17, -0.26, -0.25, -0.11, 0.13, 0.37,
    0.50, 0.44, 0.18, -0.19, -0.54, -0.71, -0.60, -0.24, 0.25, 0.68,
    0.87, 0.72, 0.28, -0.29, -0.77, -0.97, -0.79, -0.31, 0.31, 0.81,
    1.00, 0.81, 0.31, -0.31, -0.79, -0.97, -0.77, -0.29, 0.28, 0.72,
    0.87, 0.68, 0.25, -0.24, -0.60, -0.71, -0.54, -0.19, 0.18, 0.44,
    0.50, 0.37, 0.13, -0.11, -0.25, -0.26, -0.17, -0.05, 0.03, 0.04,
    0.00, -0.04, -0.03, 0.05, 0.17, 0.26, 0.25, 0.11, -0.13, -0.37,
    -0.50, -0.44, -0.18, 0.19, 0.54, 0.71, 0.60, 0.24, -0.25, -0.68,
    -0.87, -0.72, -0.28, 0.29, 0.77, 0.97, 0.79, 0.31, -0.31, -0.81,
    -1.00, -0.81, -0.31, 0.31, 0.79, 0.97, 0.77, 0.29, -0.28, -0.72,
    -0.87, -0.68, -0.25, 0.24, 0.60, 0.71, 0.54, 0.19, -0.18, -0.44,
    -0.50, -0.37, -0.13, 0.11, 0.25, 0.26, 0.17, 0.05, -0.03, -0.04,
    0.00, 0.04, 0.03, -0.05, -0.17, -0.26, -0.25, -0.11, 0.13, 0.37,
    0.50, 0.44, 0.18, -0.19, -0.54, -0.71, -0.60, -0.24, 0.25, 0.68,
    0.87, 0.72, 0.28, -0.29, -0.77, -0.97, -0.79, -0.31, 0.31, 0.81,
    1.00,
]

pole_years = POLE_START + POLE_STEP * np.arange(len(pole_x))
pole_years_mid = pole_years + POLE_STEP / 2
lag_years = np.linspace(-32.1875, 32.1875, len(lag_sd))
rel_time = np.linspace(-25.75, 25.75, len(rel_amp))

W, H = 1151, 625
fig = plt.figure(figsize=(W / 100, H / 100), dpi=100)


def box(left, top, right, bottom):
    return [left / W, 1 - bottom / H, (right - left) / W, (bottom - top) / H]


# ---------------- panel (a) ----------------
ax = fig.add_axes(box(103, 48, 760, 277))
ax.set_xlim(POLE_START, POLE_START + 25 * BEAT)
ax.set_ylim(-0.75, 0.75)
beat_marks = POLE_START + BEAT * np.arange(26)
for i, xv in enumerate(beat_marks):
    if i == 0:
        continue
    if i % 4:
        ax.axvline(xv, color="black", lw=0.9, ls=(0, (3, 3)), zorder=1)
    else:
        ax.axvline(xv, color="#ff0000", lw=3.4, zorder=1.5)
x_style = dict(ls="none", marker="D", ms=5.0, mfc="#3f70ea", mec="#14204a", mew=0.55, zorder=2)
y_style = dict(ls="none", marker="o", ms=5.8, mfc="#9bbf00", mec="#27300a", mew=0.55, zorder=3)
ax.plot(pole_years, pole_x, label="x direction", **x_style)
ax.plot(pole_years_mid, pole_x_mid, **x_style)
ax.plot(pole_years, pole_y, label="y direction", **y_style)
ax.plot(pole_years_mid, pole_y_mid, **y_style)
ax.set_xticks(beat_marks)
ax.set_xticklabels([YEAR_LABELS[i // 4] if i % 4 == 0 else "" for i in range(26)],
                   rotation=90, fontsize=10.5, fontweight="bold")
ax.set_yticks([0.75, 0.5, 0.25, 0, -0.25, -0.5, -0.75])
ax.set_yticklabels(POLE_TICKS, fontsize=12, fontweight="bold")
ax.tick_params(axis="both", direction="out", length=5, width=1, pad=4)
ax.set_ylabel('Polar Position (")', fontsize=13.5, fontweight="bold")
ax.yaxis.set_label_coords(-0.114, 0.55)
for side in ("top", "right"):
    ax.spines[side].set_color("#a6a6a6")
for side in ("left", "bottom"):
    ax.spines[side].set_linewidth(1.2)
leg = ax.legend(loc="upper left", bbox_to_anchor=(0.035, 1.015), fontsize=14.5, frameon=True,
                fancybox=False, edgecolor="black", framealpha=1, borderpad=0.15,
                handletextpad=0.3, handlelength=0.9, labelspacing=0.0, borderaxespad=0,
                markerscale=0.95)
leg.get_frame().set_linewidth(1.0)
leg.set_zorder(10)

# ---------------- panel (b) ----------------
ax = fig.add_axes(box(884, 54, 1133, 236))
ax.set_xlim(5, 12)
ax.set_ylim(400, 450)
ax.xaxis.set_major_locator(MultipleLocator(1))
ax.xaxis.set_minor_locator(MultipleLocator(0.5))
ax.yaxis.set_major_locator(MultipleLocator(10))
ax.yaxis.set_minor_locator(MultipleLocator(5))
ax.grid(which="major", color="#cccccc", lw=1.0)
ax.grid(which="minor", color="#cccccc", lw=0.8, ls=(0, (3, 3)))
ax.set_axisbelow(True)
ax.plot(beat_period, chandler_days, color="black", lw=2.0, clip_on=False, zorder=3)
ax.plot([picked_beat, picked_beat], [400, picked_days], color="#3b6cf5", lw=1.4, zorder=4)
ax.plot([5, picked_beat], [picked_days, picked_days], color="#3b6cf5", lw=1.4, zorder=4)
ax.plot(picked_beat, picked_days, "o", ms=6.5, mfc="#2ec5f0", mec="#1d4f8f", mew=0.8, zorder=5)
ax.tick_params(axis="x", which="major", direction="inout", length=8, width=1, pad=17,
               labelsize=12.5)
ax.tick_params(axis="x", which="minor", direction="inout", length=6, width=1)
ax.tick_params(axis="y", which="major", direction="out", length=5, width=1, pad=8,
               labelsize=12.5)
ax.tick_params(axis="y", which="minor", direction="out", length=3, width=1)
for lab in ax.get_xticklabels() + ax.get_yticklabels():
    lab.set_fontweight("bold")
ax.set_ylabel("Chandler Wave\nPeriod (days)", fontsize=13.5, fontweight="bold", linespacing=1.45)
ax.yaxis.set_label_coords(-0.25, 0.47)
ax.set_xlabel("Polar Position Group-Wave\nBeat Period (years)", fontsize=12, fontweight="bold",
              linespacing=1.6)
ax.xaxis.set_label_coords(0.478, -0.27)
for side in ("top", "right"):
    ax.spines[side].set_color("#b5b5b5")
for side in ("left", "bottom"):
    ax.spines[side].set_linewidth(1.2)

# ---------------- panel (c) ----------------
ax = fig.add_axes(box(120, 385.7, 483.5, 528.3))
ax.set_xlim(-32.1875, 32.1875)
ax.set_ylim(0, 0.5)
lag_ticks = -32.1875 + BEAT * np.arange(11)
for xv in lag_ticks[1:-1]:
    ax.axvline(xv, color="#c8c8c8", lw=0.9, ls=(0, (3, 3)), zorder=1)
for xv in lag_ticks[:-1] + BEAT / 2:
    ax.axvline(xv, color="#ff0000", lw=1.8, zorder=2)
for yv in (0.1, 0.2, 0.3, 0.4):
    ax.axhline(yv, color="#555555", lw=1.0, zorder=1.5)
ax.plot(lag_years, lag_sd, color="black", lw=6, marker="o", ms=6.5,
        solid_capstyle="round", zorder=4)
ax.set_xticks(lag_ticks)
ax.set_xticklabels(LAG_LABELS, rotation=90, fontproperties=TICK_NARROW)
ax.set_yticks([0, 0.1, 0.2, 0.3, 0.4, 0.5])
ax.set_yticklabels(["0", "0.1", "0.2", "0.3", "0.4", "0.5"], fontsize=12.5, fontweight="bold")
ax.tick_params(axis="both", direction="out", length=6, width=1, pad=3)
ax.tick_params(axis="y", pad=8)
ax.set_ylabel("Moving Standard Deviation\nof Cross-Correlation", fontproperties=LABEL_NARROW,
              linespacing=1.15)
ax.yaxis.set_label_coords(-0.185, 0.41)
ax.set_xlabel("Lag (years)", fontsize=13.5, fontweight="bold")
ax.xaxis.set_label_coords(0.507, -0.50)
for side in ("top", "right"):
    ax.spines[side].set_color("#9a9a9a")
for side in ("left", "bottom"):
    ax.spines[side].set_linewidth(1.2)

# ---------------- panel (d) ----------------
ax = fig.add_axes(box(607, 378.3, 1137, 519.3))
ax.set_xlim(-26.44, 26.05)
ax.set_ylim(-1, 1)
time_ticks = -25.75 + BEAT * np.arange(9)
for xv in time_ticks[1:]:
    ax.plot([xv, xv], [-1, 1], color="#19b4e8", lw=2.6, zorder=1)
ax.plot(rel_time, rel_amp, color="black", lw=1.3, marker="o", ms=5.2, clip_on=False, zorder=3)
ax.set_xticks(time_ticks)
ax.set_xticklabels(TIME_LABELS, rotation=90, fontproperties=TICK_NARROW)
ax.set_yticks([1, 0.5, 0, -0.5, -1])
ax.set_yticklabels(["1", "0.5", "0", "-0.5", "-1"], fontsize=12.5, fontweight="bold")
ax.tick_params(axis="both", direction="out", length=6, width=1, pad=3)
ax.tick_params(axis="y", pad=6)
ax.set_ylabel("Relative Amplitude", fontsize=13.5, fontweight="bold")
ax.yaxis.set_label_coords(-0.121, 0.36)
ax.set_xlabel("Relative Time (years)", fontsize=13.5, fontweight="bold")
ax.xaxis.set_label_coords(0.5, -0.567)
ax.spines["left"].set_visible(False)
ax.spines["right"].set_visible(False)
ax.spines["top"].set_color("#a0a0a0")
ax.spines["bottom"].set_linewidth(1.2)

# panel letters
for letter, (px, py) in {"(a)": (22, 22), "(b)": (791, 23), "(c)": (25, 356), "(d)": (578, 356)}.items():
    fig.text(px / W, 1 - py / H, letter, fontsize=15.5, family=LETTER, ha="center", va="center")

fig.savefig("out.png", dpi=100)
